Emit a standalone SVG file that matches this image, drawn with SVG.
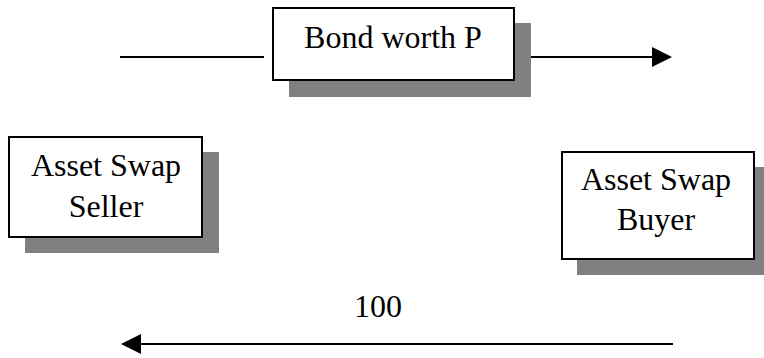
<svg xmlns="http://www.w3.org/2000/svg" width="764" height="358" viewBox="0 0 764 358">
  <style>
    .shadow { fill: #808080; stroke: none; }
    .box { fill: #ffffff; stroke: #000000; stroke-width: 2; }
    .label { font-family: "Liberation Serif", "Times New Roman", serif; font-size: 32px; fill: #000000; text-anchor: middle; }
    .flow { stroke: #000000; stroke-width: 2; fill: none; }
    .head { fill: #000000; stroke: none; }
  </style>
  <rect width="764" height="358" fill="#ffffff"/>

  <!-- Flow lines -->
  <g id="connectors">
    <line class="flow" x1="120" y1="57" x2="264" y2="57"/>
    <line class="flow" x1="527" y1="57" x2="654" y2="57"/>
    <polygon class="head" points="652,47 672,57 652,67"/>
    <line class="flow" x1="138" y1="344" x2="673" y2="344"/>
    <polygon class="head" points="141,334 121,344 141,354"/>
    <text class="label" x="378" y="317">100</text>
  </g>

  <g id="bond">
    <rect class="shadow" x="289" y="23" width="242" height="74"/>
    <rect class="box" x="273" y="8" width="241" height="72"/>
    <text class="label" x="393" y="48">Bond worth P</text>
  </g>

  <g id="seller">
    <rect class="shadow" x="25" y="152" width="194" height="101"/>
    <rect class="box" x="9" y="137" width="193" height="100"/>
    <text class="label" x="106" y="176">Asset Swap</text>
    <text class="label" x="106" y="217">Seller</text>
  </g>

  <g id="buyer">
    <rect class="shadow" x="577" y="167" width="187" height="108"/>
    <rect class="box" x="562" y="152" width="192" height="107"/>
    <text class="label" x="656" y="190">Asset Swap</text>
    <text class="label" x="656" y="230">Buyer</text>
  </g>
</svg>
